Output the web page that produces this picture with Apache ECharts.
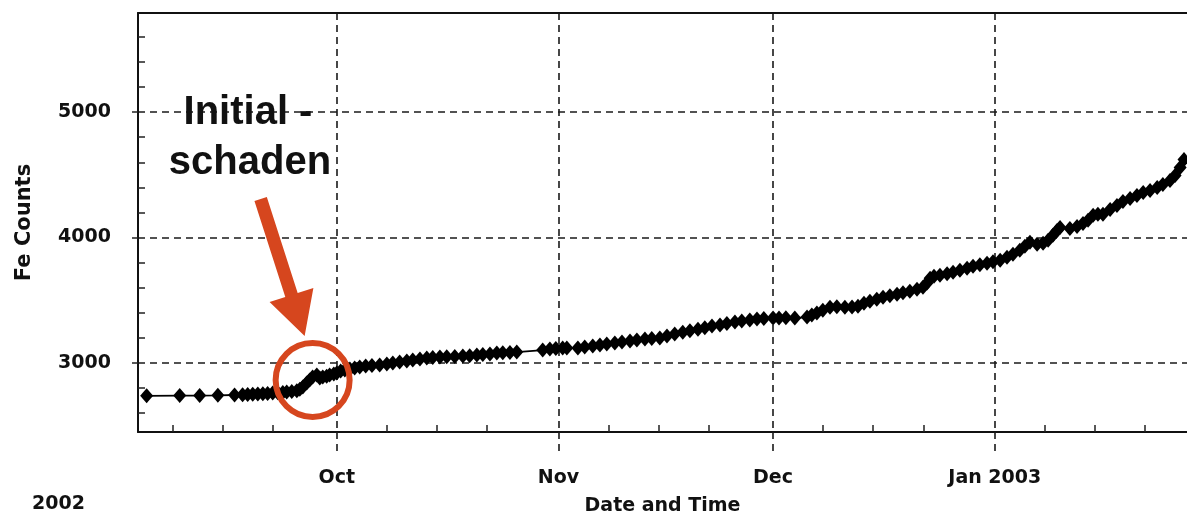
<!DOCTYPE html>
<html>
<head>
<meta charset="utf-8">
<title>Fe Counts</title>
<script src="https://cdn.jsdelivr.net/npm/echarts@6.0.0/dist/echarts.min.js"></script>
<style>
  html, body { margin: 0; padding: 0; background: #fff; }
  #main { width: 1187px; height: 514px; }
</style>
</head>
<body>
<div id="main"></div>
<script>
// Messpunkte
const times = [
  '2002-09-04 10:00', '2002-09-09 01:00', '2002-09-11 20:00', '2002-09-14 09:00', '2002-09-16 17:00',
  '2002-09-17 20:00', '2002-09-18 13:00', '2002-09-19 06:00', '2002-09-19 23:00', '2002-09-20 16:00',
  '2002-09-21 08:00', '2002-09-22 01:00', '2002-09-22 18:00', '2002-09-23 11:00', '2002-09-24 00:00',
  '2002-09-24 17:00', '2002-09-25 10:00', '2002-09-25 20:00', '2002-09-26 06:00', '2002-09-26 19:00',
  '2002-09-27 05:00', '2002-09-27 15:00', '2002-09-28 05:00', '2002-09-28 15:00', '2002-09-29 01:00',
  '2002-09-29 14:00', '2002-09-30 00:00', '2002-09-30 14:00', '2002-10-01 00:00', '2002-10-01 13:00',
  '2002-10-02 03:00', '2002-10-02 20:00', '2002-10-03 12:00', '2002-10-04 05:00', '2002-10-05 01:00',
  '2002-10-05 22:00', '2002-10-07 00:00', '2002-10-08 00:00', '2002-10-08 20:00', '2002-10-09 19:00',
  '2002-10-10 19:00', '2002-10-11 15:00', '2002-10-12 15:00', '2002-10-13 14:00', '2002-10-14 10:00',
  '2002-10-15 10:00', '2002-10-16 09:00', '2002-10-17 12:00', '2002-10-18 15:00', '2002-10-19 14:00',
  '2002-10-20 14:00', '2002-10-21 10:00', '2002-10-22 10:00', '2002-10-23 09:00', '2002-10-24 05:00',
  '2002-10-25 05:00', '2002-10-26 04:00', '2002-10-29 19:00', '2002-10-30 19:00', '2002-10-31 15:00',
  '2002-11-01 14:00', '2002-11-02 04:00', '2002-11-03 17:00', '2002-11-04 16:00', '2002-11-05 19:00',
  '2002-11-06 19:00', '2002-11-07 18:00', '2002-11-08 21:00', '2002-11-09 21:00', '2002-11-11 00:00',
  '2002-11-11 23:00', '2002-11-13 02:00', '2002-11-14 01:00', '2002-11-15 04:00', '2002-11-16 04:00',
  '2002-11-17 06:00', '2002-11-18 09:00', '2002-11-19 09:00', '2002-11-20 12:00', '2002-11-21 11:00',
  '2002-11-22 11:00', '2002-11-23 14:00', '2002-11-24 13:00', '2002-11-25 16:00', '2002-11-26 15:00',
  '2002-11-27 18:00', '2002-11-28 18:00', '2002-11-29 17:00', '2002-12-01 00:00', '2002-12-01 20:00',
  '2002-12-02 19:00', '2002-12-04 01:00', '2002-12-05 18:00', '2002-12-06 10:00', '2002-12-07 03:00',
  '2002-12-07 23:00', '2002-12-08 23:00', '2002-12-09 22:00', '2002-12-11 01:00', '2002-12-12 01:00',
  '2002-12-12 21:00', '2002-12-13 17:00', '2002-12-14 13:00', '2002-12-15 12:00', '2002-12-16 09:00',
  '2002-12-17 08:00', '2002-12-18 08:00', '2002-12-19 04:00', '2002-12-20 03:00', '2002-12-21 03:00',
  '2002-12-21 23:00', '2002-12-22 12:00', '2002-12-22 23:00', '2002-12-23 12:00', '2002-12-24 08:00',
  '2002-12-25 08:00', '2002-12-26 04:00', '2002-12-27 03:00', '2002-12-28 03:00', '2002-12-28 23:00',
  '2002-12-29 22:00', '2002-12-30 22:00', '2002-12-31 18:00', '2003-01-01 18:00', '2003-01-02 17:00',
  '2003-01-03 13:00', '2003-01-04 12:00', '2003-01-05 05:00', '2003-01-05 22:00', '2003-01-06 22:00',
  '2003-01-07 18:00', '2003-01-08 11:00', '2003-01-09 03:00', '2003-01-09 17:00', '2003-01-10 03:00',
  '2003-01-11 12:00', '2003-01-12 12:00', '2003-01-13 08:00', '2003-01-14 01:00', '2003-01-14 18:00',
  '2003-01-15 10:00', '2003-01-16 03:00', '2003-01-17 03:00', '2003-01-18 02:00', '2003-01-18 22:00',
  '2003-01-19 22:00', '2003-01-20 21:00', '2003-01-21 18:00', '2003-01-22 17:00', '2003-01-23 17:00',
  '2003-01-24 12:00', '2003-01-25 12:00', '2003-01-26 05:00', '2003-01-26 22:00', '2003-01-27 11:00'
];
const feCounts = [
  2738, 2740, 2740, 2742, 2745,
  2746, 2748, 2750, 2752, 2755,
  2756, 2760, 2762, 2765, 2768,
  2772, 2778, 2790, 2809, 2841,
  2865, 2889, 2905, 2880, 2889,
  2895, 2905, 2913, 2920, 2936,
  2944, 2952, 2960, 2968, 2976,
  2980, 2984, 2992, 3000, 3008,
  3016, 3024, 3032, 3040, 3044,
  3048, 3050, 3052, 3056, 3058,
  3064, 3068, 3072, 3080, 3082,
  3084, 3087, 3103, 3111, 3115,
  3119, 3120, 3120, 3127, 3135,
  3143, 3151, 3159, 3167, 3175,
  3183, 3191, 3195, 3199, 3215,
  3231, 3246, 3258, 3270, 3282,
  3294, 3302, 3314, 3326, 3334,
  3342, 3350, 3354, 3358, 3358,
  3360, 3358, 3366, 3382, 3398,
  3421, 3445, 3449, 3445, 3447,
  3453, 3477, 3493, 3509, 3525,
  3537, 3549, 3560, 3572, 3588,
  3604, 3636, 3676, 3692, 3700,
  3712, 3723, 3739, 3755, 3771,
  3783, 3795, 3807, 3819, 3843,
  3867, 3898, 3930, 3962, 3946,
  3954, 3978, 4018, 4057, 4081,
  4073, 4089, 4113, 4137, 4177,
  4185, 4185, 4224, 4256, 4288,
  4312, 4336, 4359, 4375, 4399,
  4423, 4455, 4495, 4558, 4622
];

// Achsen
const xMin = '2002-09-03 05:00';
const xMax = '2003-01-27 21:00';
const yMin = 2450;
const yMax = 5790;
const monthTicks = ['2002-10-01', '2002-11-01', '2002-12-01', '2003-01-01'];
const monthLabels = ['Oct', 'Nov', 'Dec', 'Jan 2003'];
const weekTicks = [
  '2002-09-08', '2002-09-15', '2002-09-22',
  '2002-10-08', '2002-10-15', '2002-10-22',
  '2002-11-08', '2002-11-15', '2002-11-22',
  '2002-12-08', '2002-12-15', '2002-12-22',
  '2003-01-08', '2003-01-15', '2003-01-22'
];
const yLabels = [3000, 4000, 5000];
const yMinorTicks = [2600, 2800, 3200, 3400, 3600, 3800, 4200, 4400, 4600, 4800, 5200, 5400, 5600];

// Markierung "Initialschaden"
const circleAt = ['2002-09-27 15:00', 2865];
const noteLines = ['Initial -', 'schaden'];

const toTime = (s) => new Date(s.replace(/-/g, '/')).getTime();

const labelFont = { fontFamily: 'DejaVu Sans', fontWeight: 'bold', fontSize: 19, color: '#111' };
const gridDash = { color: '#1a1a1a', width: 1.6, type: [7, 5] };

function monthLabel(value) {
  const i = monthTicks.findIndex(t => Math.abs(toTime(t) - value) < 3600000);
  return i < 0 ? '' : monthLabels[i];
}

const chart = echarts.init(document.getElementById('main'));

const option = {
  animation: false,
  backgroundColor: '#fff',
  grid: { left: 138, right: 0, top: 13, bottom: 82, containLabel: false, outerBoundsMode: 'none' },
  xAxis: [
    {
      type: 'value', position: 'bottom', min: toTime(xMin), max: toTime(xMax),
      name: 'Date and Time', nameLocation: 'middle', nameGap: 65,
      nameTextStyle: labelFont,
      axisLine: { show: true, onZero: false, lineStyle: { color: '#111', width: 2 } },
      axisTick: { show: true, customValues: monthTicks.map(toTime), inside: false, length: 20, lineStyle: gridDash },
      axisLabel: Object.assign({ customValues: monthTicks.map(toTime), margin: 37, formatter: monthLabel }, labelFont),
      splitLine: { show: true, lineStyle: gridDash }
    },
    {
      type: 'value', position: 'bottom', min: toTime(xMin), max: toTime(xMax),
      axisLine: { show: false },
      axisLabel: { show: false },
      splitLine: { show: false },
      axisTick: { show: true, customValues: weekTicks.map(toTime), inside: true, length: 7, lineStyle: { color: '#222', width: 1.5 } }
    },
    {
      type: 'value', position: 'top', min: toTime(xMin), max: toTime(xMax),
      axisLine: { show: true, onZero: false, lineStyle: { color: '#111', width: 2 } },
      axisTick: { show: false }, axisLabel: { show: false }, splitLine: { show: false }
    }
  ],
  yAxis: [
    {
      type: 'value', position: 'left', min: yMin, max: yMax,
      name: 'Fe Counts', nameLocation: 'middle', nameGap: 103, nameRotate: 90,
      nameTextStyle: Object.assign({}, labelFont, { fontSize: 21 }),
      axisLine: { show: true, onZero: false, lineStyle: { color: '#111', width: 2 } },
      axisTick: { show: true, customValues: yLabels, inside: false, length: 6, lineStyle: { color: '#222', width: 1.5 } },
      axisLabel: Object.assign({ customValues: yLabels, margin: 27, formatter: (v) => String(v) }, labelFont),
      splitLine: { show: true, lineStyle: gridDash }
    },
    {
      type: 'value', position: 'left', min: yMin, max: yMax,
      axisLine: { show: false }, axisLabel: { show: false }, splitLine: { show: false },
      axisTick: { show: true, customValues: yMinorTicks, inside: true, length: 7, lineStyle: { color: '#222', width: 1.5 } }
    }
  ],
  series: [
    {
      type: 'line',
      xAxisIndex: 0,
      yAxisIndex: 0,
      data: times.map((t, i) => [toTime(t), feCounts[i]]),
      symbol: 'diamond',
      symbolSize: [13, 15],
      showSymbol: true,
      lineStyle: { color: '#000', width: 1.8 },
      itemStyle: { color: '#000' },
      z: 5
    }
  ]
};

chart.setOption(option);

// Kreis + Pfeil an den Datenpunkt haengen
const red = '#d6461e';
const c = chart.convertToPixel({ xAxisIndex: 0, yAxisIndex: 0 }, [toTime(circleAt[0]), circleAt[1]]);
const start = [c[0] - 52, c[1] - 181];
const tip = [c[0] - 8, c[1] - 44];
const len = Math.hypot(tip[0] - start[0], tip[1] - start[1]);
const d = [(tip[0] - start[0]) / len, (tip[1] - start[1]) / len];
const n = [-d[1], d[0]];
const base = [tip[0] - d[0] * 43, tip[1] - d[1] * 43];
const off = (p, k) => [p[0] + n[0] * k, p[1] + n[1] * k];

chart.setOption({
  graphic: [
    {
      type: 'text', left: 32, top: 495,
      style: { text: '2002', font: 'bold 19px "DejaVu Sans"', fill: '#111' }
    },
    {
      type: 'circle', z: 100,
      shape: { cx: c[0], cy: c[1], r: 37 },
      style: { fill: 'none', stroke: red, lineWidth: 6 }
    },
    {
      type: 'polygon', z: 100,
      shape: { points: [off(start, 6.5), off(base, 6.5), off(base, 23), tip, off(base, -23), off(base, -6.5), off(start, -6.5)] },
      style: { fill: red }
    },
    {
      type: 'text', z: 100, x: 248, y: 113,
      style: { text: noteLines[0], font: 'bold 40px "Liberation Sans"', fill: '#111', align: 'center', verticalAlign: 'middle' }
    },
    {
      type: 'text', z: 100, x: 250, y: 163,
      style: { text: noteLines[1], font: 'bold 40px "Liberation Sans"', fill: '#111', align: 'center', verticalAlign: 'middle' }
    }
  ]
});
</script>
</body>
</html>
